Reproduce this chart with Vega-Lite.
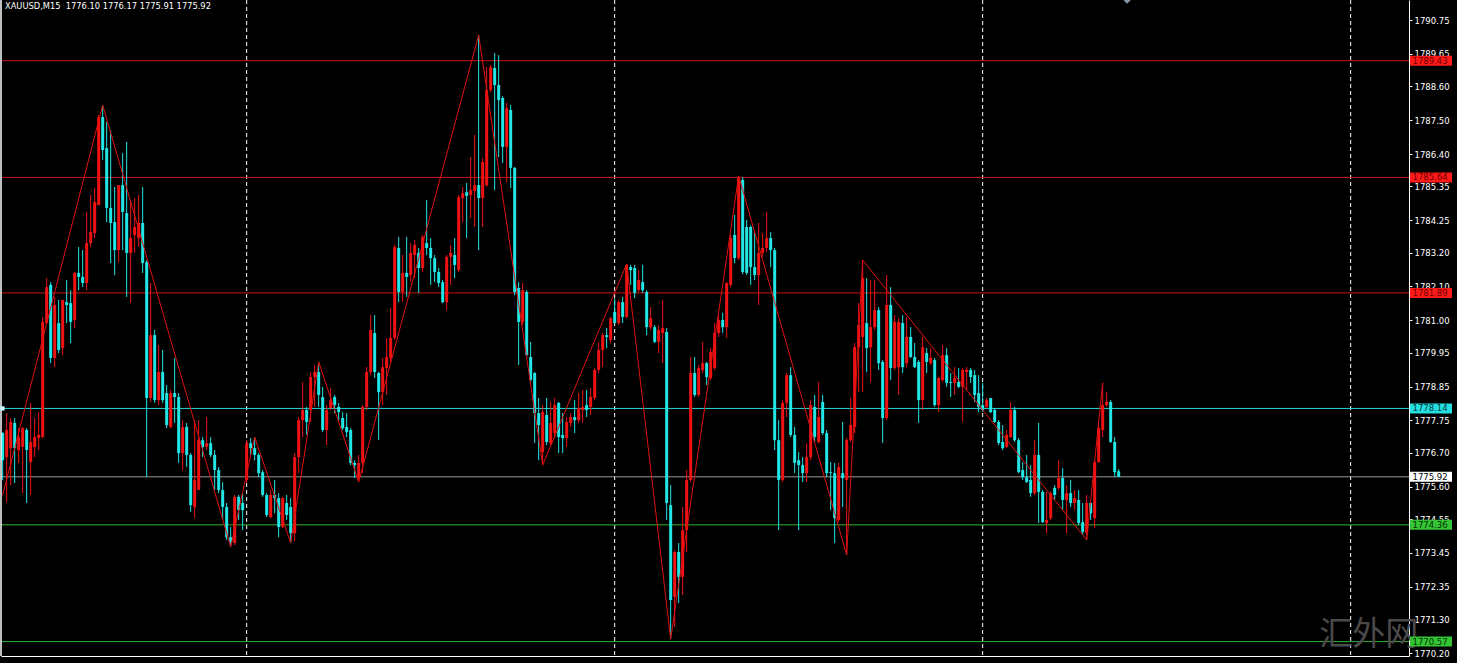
{
"$schema":"https://vega.github.io/schema/vega-lite/v6.json",
"width":1408,"height":656,"autosize":"none",
"padding":{"left":1,"top":0,"right":48,"bottom":7},
"background":"#000000",
"config":{"view":{"stroke":null},"axis":{"labelOverlap":false,"labelSeparation":0},"scale":{"continuousPadding":0}},
"datasets":{
"candles":[
{"k":0,"o":1777.34,"h":1777.37,"l":1775.82,"c":1776.46},
{"k":1,"o":1776.56,"h":1777.99,"l":1775.10,"c":1777.44},
{"k":2,"o":1776.85,"h":1777.83,"l":1775.65,"c":1777.70},
{"k":3,"o":1777.67,"h":1777.83,"l":1775.72,"c":1776.85},
{"k":4,"o":1776.79,"h":1777.50,"l":1776.37,"c":1777.21},
{"k":5,"o":1776.89,"h":1777.54,"l":1775.39,"c":1777.50},
{"k":6,"o":1777.44,"h":1777.50,"l":1775.07,"c":1776.79},
{"k":7,"o":1776.40,"h":1778.32,"l":1775.33,"c":1777.05},
{"k":8,"o":1776.89,"h":1777.83,"l":1776.56,"c":1777.21},
{"k":9,"o":1777.18,"h":1778.02,"l":1776.79,"c":1777.28},
{"k":10,"o":1777.21,"h":1781.11,"l":1777.18,"c":1780.95},
{"k":11,"o":1780.91,"h":1782.37,"l":1780.91,"c":1782.08},
{"k":12,"o":1782.15,"h":1782.24,"l":1779.61,"c":1779.78},
{"k":13,"o":1779.78,"h":1781.76,"l":1779.48,"c":1781.50},
{"k":14,"o":1780.91,"h":1781.66,"l":1779.94,"c":1780.04},
{"k":15,"o":1780.10,"h":1781.66,"l":1779.87,"c":1781.66},
{"k":16,"o":1781.59,"h":1782.31,"l":1780.91,"c":1781.50},
{"k":17,"o":1781.56,"h":1781.98,"l":1780.26,"c":1780.95},
{"k":18,"o":1781.01,"h":1782.57,"l":1780.75,"c":1782.54},
{"k":19,"o":1782.54,"h":1783.38,"l":1781.98,"c":1782.41},
{"k":20,"o":1782.41,"h":1783.28,"l":1782.08,"c":1782.21},
{"k":21,"o":1782.21,"h":1784.52,"l":1781.98,"c":1783.51},
{"k":22,"o":1783.51,"h":1785.07,"l":1783.38,"c":1783.87},
{"k":23,"o":1783.83,"h":1785.30,"l":1783.67,"c":1784.84},
{"k":24,"o":1784.74,"h":1787.67,"l":1784.74,"c":1787.60},
{"k":25,"o":1787.60,"h":1787.99,"l":1786.21,"c":1786.53},
{"k":26,"o":1786.59,"h":1787.44,"l":1784.19,"c":1784.65},
{"k":27,"o":1784.65,"h":1787.18,"l":1782.86,"c":1784.16},
{"k":28,"o":1784.19,"h":1785.33,"l":1782.47,"c":1783.28},
{"k":29,"o":1783.28,"h":1785.39,"l":1782.89,"c":1785.39},
{"k":30,"o":1785.39,"h":1786.43,"l":1783.28,"c":1784.52},
{"k":31,"o":1784.48,"h":1786.79,"l":1781.76,"c":1783.19},
{"k":32,"o":1783.19,"h":1784.91,"l":1781.56,"c":1783.67},
{"k":33,"o":1783.77,"h":1784.97,"l":1783.19,"c":1784.03},
{"k":34,"o":1783.67,"h":1785.07,"l":1783.38,"c":1784.16},
{"k":35,"o":1784.16,"h":1785.33,"l":1782.54,"c":1782.86},
{"k":36,"o":1782.89,"h":1782.96,"l":1775.91,"c":1778.48},
{"k":37,"o":1778.48,"h":1782.21,"l":1778.35,"c":1780.52},
{"k":38,"o":1780.52,"h":1780.69,"l":1778.32,"c":1778.41},
{"k":39,"o":1778.41,"h":1780.20,"l":1778.25,"c":1779.32},
{"k":40,"o":1779.32,"h":1780.04,"l":1778.32,"c":1778.41},
{"k":41,"o":1778.64,"h":1778.90,"l":1777.50,"c":1777.60},
{"k":42,"o":1777.54,"h":1778.74,"l":1777.50,"c":1778.64},
{"k":43,"o":1778.64,"h":1779.78,"l":1777.67,"c":1778.51},
{"k":44,"o":1778.51,"h":1778.64,"l":1776.37,"c":1776.69},
{"k":45,"o":1776.69,"h":1777.76,"l":1776.14,"c":1777.54},
{"k":46,"o":1777.54,"h":1777.67,"l":1776.24,"c":1776.63},
{"k":47,"o":1776.63,"h":1776.69,"l":1774.78,"c":1775.00},
{"k":48,"o":1774.94,"h":1777.76,"l":1774.58,"c":1775.82},
{"k":49,"o":1775.49,"h":1777.76,"l":1775.49,"c":1777.11},
{"k":50,"o":1777.11,"h":1777.21,"l":1776.56,"c":1776.89},
{"k":51,"o":1776.89,"h":1777.86,"l":1776.79,"c":1777.01},
{"k":52,"o":1777.01,"h":1777.21,"l":1776.56,"c":1776.63},
{"k":53,"o":1776.63,"h":1776.79,"l":1775.49,"c":1776.14},
{"k":54,"o":1776.14,"h":1776.24,"l":1775.39,"c":1775.49},
{"k":55,"o":1775.49,"h":1775.75,"l":1774.52,"c":1774.94},
{"k":56,"o":1774.94,"h":1775.07,"l":1773.87,"c":1773.96},
{"k":57,"o":1773.96,"h":1774.29,"l":1773.64,"c":1773.80},
{"k":58,"o":1773.77,"h":1775.33,"l":1773.70,"c":1775.27},
{"k":59,"o":1775.27,"h":1775.33,"l":1774.52,"c":1774.84},
{"k":60,"o":1775.07,"h":1775.39,"l":1774.19,"c":1774.84},
{"k":61,"o":1775.82,"h":1777.11,"l":1775.72,"c":1777.01},
{"k":62,"o":1777.01,"h":1777.18,"l":1776.63,"c":1776.85},
{"k":63,"o":1776.85,"h":1777.21,"l":1776.46,"c":1776.63},
{"k":64,"o":1776.63,"h":1776.69,"l":1775.91,"c":1776.04},
{"k":65,"o":1776.07,"h":1776.14,"l":1775.27,"c":1775.33},
{"k":66,"o":1775.33,"h":1775.39,"l":1774.61,"c":1774.68},
{"k":67,"o":1774.61,"h":1775.49,"l":1774.58,"c":1775.33},
{"k":68,"o":1775.33,"h":1775.82,"l":1774.74,"c":1775.23},
{"k":69,"o":1775.23,"h":1775.39,"l":1773.96,"c":1774.29},
{"k":70,"o":1774.29,"h":1775.27,"l":1774.26,"c":1775.23},
{"k":71,"o":1775.07,"h":1775.33,"l":1774.52,"c":1774.68},
{"k":72,"o":1774.94,"h":1775.23,"l":1773.77,"c":1774.09},
{"k":73,"o":1774.09,"h":1776.69,"l":1773.83,"c":1776.56},
{"k":74,"o":1776.56,"h":1777.86,"l":1776.04,"c":1777.76},
{"k":75,"o":1777.76,"h":1778.99,"l":1777.21,"c":1778.09},
{"k":76,"o":1778.09,"h":1778.19,"l":1777.28,"c":1777.70},
{"k":77,"o":1778.09,"h":1779.32,"l":1777.70,"c":1779.16},
{"k":78,"o":1779.16,"h":1779.55,"l":1778.19,"c":1779.32},
{"k":79,"o":1779.32,"h":1779.65,"l":1778.19,"c":1778.58},
{"k":80,"o":1778.51,"h":1778.84,"l":1777.37,"c":1777.44},
{"k":81,"o":1777.44,"h":1778.25,"l":1776.95,"c":1778.09},
{"k":82,"o":1778.15,"h":1778.80,"l":1778.09,"c":1778.41},
{"k":83,"o":1778.51,"h":1778.58,"l":1777.99,"c":1778.25},
{"k":84,"o":1778.19,"h":1778.32,"l":1777.76,"c":1778.02},
{"k":85,"o":1777.83,"h":1778.02,"l":1777.44,"c":1777.50},
{"k":86,"o":1777.54,"h":1777.99,"l":1777.21,"c":1777.37},
{"k":87,"o":1777.44,"h":1777.50,"l":1776.30,"c":1776.37},
{"k":88,"o":1776.37,"h":1776.46,"l":1775.88,"c":1776.30},
{"k":89,"o":1775.88,"h":1776.63,"l":1775.75,"c":1776.37},
{"k":90,"o":1776.37,"h":1778.25,"l":1776.04,"c":1778.19},
{"k":91,"o":1778.19,"h":1779.48,"l":1778.09,"c":1779.32},
{"k":92,"o":1779.32,"h":1781.17,"l":1779.22,"c":1780.69},
{"k":93,"o":1780.59,"h":1781.17,"l":1779.13,"c":1779.32},
{"k":94,"o":1779.29,"h":1779.32,"l":1777.11,"c":1778.67},
{"k":95,"o":1778.67,"h":1779.78,"l":1778.25,"c":1779.48},
{"k":96,"o":1779.45,"h":1780.43,"l":1778.58,"c":1779.81},
{"k":97,"o":1779.78,"h":1781.40,"l":1779.65,"c":1780.43},
{"k":98,"o":1780.43,"h":1783.45,"l":1780.36,"c":1783.38},
{"k":99,"o":1783.35,"h":1783.71,"l":1781.59,"c":1781.92},
{"k":100,"o":1781.92,"h":1783.12,"l":1781.59,"c":1782.54},
{"k":101,"o":1782.54,"h":1783.71,"l":1781.76,"c":1782.41},
{"k":102,"o":1782.47,"h":1783.51,"l":1782.24,"c":1783.19},
{"k":103,"o":1783.12,"h":1783.61,"l":1782.37,"c":1783.45},
{"k":104,"o":1783.19,"h":1783.35,"l":1781.89,"c":1782.70},
{"k":105,"o":1782.70,"h":1783.77,"l":1782.57,"c":1783.71},
{"k":106,"o":1783.51,"h":1784.91,"l":1783.12,"c":1783.35},
{"k":107,"o":1783.35,"h":1783.67,"l":1782.15,"c":1783.02},
{"k":108,"o":1783.02,"h":1783.12,"l":1782.24,"c":1782.57},
{"k":109,"o":1782.57,"h":1782.70,"l":1782.08,"c":1782.21},
{"k":110,"o":1782.24,"h":1782.31,"l":1781.56,"c":1781.59},
{"k":111,"o":1781.59,"h":1783.12,"l":1781.33,"c":1783.06},
{"k":112,"o":1783.06,"h":1783.45,"l":1782.15,"c":1783.19},
{"k":113,"o":1783.12,"h":1783.67,"l":1782.37,"c":1782.80},
{"k":114,"o":1782.63,"h":1785.07,"l":1782.57,"c":1785.00},
{"k":115,"o":1784.97,"h":1785.33,"l":1784.19,"c":1785.13},
{"k":116,"o":1785.16,"h":1785.46,"l":1783.67,"c":1785.04},
{"k":117,"o":1785.07,"h":1786.30,"l":1784.32,"c":1785.23},
{"k":118,"o":1785.20,"h":1787.02,"l":1784.03,"c":1785.39},
{"k":119,"o":1785.39,"h":1790.26,"l":1783.28,"c":1784.97},
{"k":120,"o":1784.97,"h":1786.27,"l":1784.03,"c":1786.14},
{"k":121,"o":1785.39,"h":1789.22,"l":1785.33,"c":1788.48},
{"k":122,"o":1788.48,"h":1789.29,"l":1788.41,"c":1789.22},
{"k":123,"o":1789.19,"h":1789.68,"l":1785.23,"c":1788.64},
{"k":124,"o":1788.64,"h":1789.61,"l":1786.30,"c":1788.15},
{"k":125,"o":1788.22,"h":1788.28,"l":1786.11,"c":1786.63},
{"k":126,"o":1786.63,"h":1788.06,"l":1785.49,"c":1787.89},
{"k":127,"o":1787.83,"h":1787.99,"l":1785.30,"c":1785.95},
{"k":128,"o":1785.95,"h":1785.98,"l":1781.82,"c":1781.92},
{"k":129,"o":1782.05,"h":1782.24,"l":1779.55,"c":1780.95},
{"k":130,"o":1780.95,"h":1782.21,"l":1780.85,"c":1781.98},
{"k":131,"o":1781.92,"h":1781.98,"l":1779.78,"c":1779.87},
{"k":132,"o":1779.81,"h":1780.30,"l":1778.99,"c":1779.06},
{"k":133,"o":1779.29,"h":1779.32,"l":1777.02,"c":1777.99},
{"k":134,"o":1777.99,"h":1778.48,"l":1776.46,"c":1777.60},
{"k":135,"o":1776.72,"h":1778.25,"l":1776.30,"c":1778.02},
{"k":136,"o":1777.93,"h":1778.48,"l":1776.95,"c":1777.05},
{"k":137,"o":1777.01,"h":1778.35,"l":1776.95,"c":1777.67},
{"k":138,"o":1777.34,"h":1778.48,"l":1777.18,"c":1778.25},
{"k":139,"o":1778.32,"h":1778.35,"l":1776.69,"c":1777.21},
{"k":140,"o":1777.28,"h":1777.99,"l":1776.69,"c":1777.18},
{"k":141,"o":1777.18,"h":1777.86,"l":1776.89,"c":1777.70},
{"k":142,"o":1777.67,"h":1777.99,"l":1777.54,"c":1777.86},
{"k":143,"o":1777.86,"h":1778.41,"l":1777.34,"c":1777.76},
{"k":144,"o":1777.76,"h":1778.64,"l":1777.67,"c":1778.15},
{"k":145,"o":1778.09,"h":1778.74,"l":1777.67,"c":1778.19},
{"k":146,"o":1778.25,"h":1778.74,"l":1777.86,"c":1778.09},
{"k":147,"o":1778.19,"h":1778.80,"l":1777.93,"c":1778.51},
{"k":148,"o":1778.48,"h":1779.45,"l":1778.41,"c":1779.39},
{"k":149,"o":1779.39,"h":1780.30,"l":1779.29,"c":1780.04},
{"k":150,"o":1780.04,"h":1780.59,"l":1779.48,"c":1780.52},
{"k":151,"o":1780.52,"h":1780.75,"l":1780.10,"c":1780.46},
{"k":152,"o":1780.36,"h":1781.11,"l":1780.26,"c":1781.07},
{"k":153,"o":1781.27,"h":1781.72,"l":1780.91,"c":1780.91},
{"k":154,"o":1780.91,"h":1781.66,"l":1780.85,"c":1781.59},
{"k":155,"o":1781.59,"h":1781.76,"l":1780.91,"c":1781.11},
{"k":156,"o":1781.11,"h":1782.83,"l":1781.07,"c":1782.80},
{"k":157,"o":1782.73,"h":1782.80,"l":1782.15,"c":1782.63},
{"k":158,"o":1782.70,"h":1782.80,"l":1781.72,"c":1781.89},
{"k":159,"o":1781.98,"h":1782.63,"l":1781.92,"c":1782.31},
{"k":160,"o":1782.24,"h":1782.80,"l":1781.89,"c":1781.98},
{"k":161,"o":1781.92,"h":1781.98,"l":1780.52,"c":1780.78},
{"k":162,"o":1780.78,"h":1781.43,"l":1780.69,"c":1781.07},
{"k":163,"o":1780.78,"h":1780.85,"l":1780.26,"c":1780.30},
{"k":164,"o":1780.30,"h":1780.85,"l":1779.94,"c":1780.69},
{"k":165,"o":1780.59,"h":1781.66,"l":1779.61,"c":1780.75},
{"k":166,"o":1780.62,"h":1780.75,"l":1774.52,"c":1775.07},
{"k":167,"o":1775.00,"h":1775.65,"l":1770.65,"c":1771.92},
{"k":168,"o":1772.02,"h":1773.54,"l":1771.04,"c":1773.48},
{"k":169,"o":1773.48,"h":1773.77,"l":1771.82,"c":1772.67},
{"k":170,"o":1772.67,"h":1774.94,"l":1772.08,"c":1774.19},
{"k":171,"o":1774.19,"h":1776.14,"l":1773.48,"c":1775.82},
{"k":172,"o":1775.82,"h":1779.81,"l":1775.75,"c":1779.29},
{"k":173,"o":1779.29,"h":1779.81,"l":1778.51,"c":1778.58},
{"k":174,"o":1778.58,"h":1779.55,"l":1778.51,"c":1779.45},
{"k":175,"o":1779.39,"h":1780.30,"l":1779.29,"c":1779.61},
{"k":176,"o":1779.61,"h":1779.65,"l":1778.90,"c":1779.16},
{"k":177,"o":1779.13,"h":1780.10,"l":1779.06,"c":1779.97},
{"k":178,"o":1779.45,"h":1780.91,"l":1779.39,"c":1780.59},
{"k":179,"o":1780.59,"h":1781.17,"l":1780.46,"c":1781.01},
{"k":180,"o":1781.01,"h":1781.24,"l":1780.59,"c":1780.78},
{"k":181,"o":1780.78,"h":1782.24,"l":1780.43,"c":1782.21},
{"k":182,"o":1782.15,"h":1783.77,"l":1782.08,"c":1783.67},
{"k":183,"o":1783.77,"h":1784.42,"l":1782.86,"c":1783.02},
{"k":184,"o":1783.02,"h":1785.69,"l":1782.96,"c":1785.62},
{"k":185,"o":1785.56,"h":1785.65,"l":1782.50,"c":1782.57},
{"k":186,"o":1784.03,"h":1784.26,"l":1782.47,"c":1782.54},
{"k":187,"o":1784.03,"h":1784.09,"l":1782.15,"c":1782.73},
{"k":188,"o":1782.73,"h":1783.84,"l":1782.31,"c":1782.47},
{"k":189,"o":1782.47,"h":1784.16,"l":1781.50,"c":1783.19},
{"k":190,"o":1783.19,"h":1783.84,"l":1783.06,"c":1783.35},
{"k":191,"o":1783.35,"h":1784.52,"l":1783.22,"c":1783.67},
{"k":192,"o":1783.67,"h":1783.87,"l":1782.73,"c":1783.28},
{"k":193,"o":1783.28,"h":1783.35,"l":1776.79,"c":1777.11},
{"k":194,"o":1777.11,"h":1777.76,"l":1774.19,"c":1775.82},
{"k":195,"o":1775.82,"h":1778.41,"l":1775.75,"c":1778.32},
{"k":196,"o":1778.32,"h":1779.29,"l":1777.86,"c":1779.22},
{"k":197,"o":1779.22,"h":1779.48,"l":1777.21,"c":1777.28},
{"k":198,"o":1777.28,"h":1777.54,"l":1776.04,"c":1776.37},
{"k":199,"o":1776.46,"h":1776.72,"l":1774.19,"c":1776.30},
{"k":200,"o":1776.30,"h":1776.56,"l":1775.75,"c":1776.04},
{"k":201,"o":1776.04,"h":1777.01,"l":1775.75,"c":1776.56},
{"k":202,"o":1776.56,"h":1778.41,"l":1776.46,"c":1778.25},
{"k":203,"o":1778.19,"h":1778.58,"l":1777.05,"c":1777.21},
{"k":204,"o":1777.05,"h":1779.00,"l":1777.01,"c":1777.86},
{"k":205,"o":1778.35,"h":1778.58,"l":1777.28,"c":1777.34},
{"k":206,"o":1777.34,"h":1777.44,"l":1775.91,"c":1776.04},
{"k":207,"o":1776.07,"h":1776.40,"l":1774.84,"c":1776.04},
{"k":208,"o":1776.04,"h":1776.37,"l":1773.77,"c":1774.58},
{"k":209,"o":1774.52,"h":1776.37,"l":1774.45,"c":1776.24},
{"k":210,"o":1776.04,"h":1777.70,"l":1774.94,"c":1775.88},
{"k":211,"o":1775.82,"h":1777.18,"l":1773.38,"c":1777.11},
{"k":212,"o":1777.11,"h":1778.48,"l":1777.05,"c":1777.60},
{"k":213,"o":1777.54,"h":1780.26,"l":1777.34,"c":1780.13},
{"k":214,"o":1780.13,"h":1781.56,"l":1778.67,"c":1780.85},
{"k":215,"o":1780.46,"h":1782.96,"l":1778.67,"c":1782.37},
{"k":216,"o":1780.91,"h":1782.37,"l":1779.32,"c":1780.10},
{"k":217,"o":1780.13,"h":1782.31,"l":1778.99,"c":1780.78},
{"k":218,"o":1780.78,"h":1782.31,"l":1780.69,"c":1781.33},
{"k":219,"o":1781.33,"h":1781.43,"l":1779.39,"c":1779.61},
{"k":220,"o":1779.65,"h":1779.71,"l":1777.02,"c":1777.83},
{"k":221,"o":1777.83,"h":1782.47,"l":1777.76,"c":1781.50},
{"k":222,"o":1781.50,"h":1782.08,"l":1779.06,"c":1779.45},
{"k":223,"o":1779.45,"h":1781.17,"l":1779.39,"c":1780.95},
{"k":224,"o":1779.48,"h":1781.07,"l":1778.58,"c":1780.95},
{"k":225,"o":1780.91,"h":1781.17,"l":1779.29,"c":1779.48},
{"k":226,"o":1779.61,"h":1781.11,"l":1779.48,"c":1780.46},
{"k":227,"o":1780.46,"h":1780.78,"l":1779.78,"c":1779.81},
{"k":228,"o":1779.81,"h":1780.26,"l":1779.45,"c":1779.48},
{"k":229,"o":1779.65,"h":1779.71,"l":1777.67,"c":1778.41},
{"k":230,"o":1778.41,"h":1780.46,"l":1778.09,"c":1780.13},
{"k":231,"o":1779.94,"h":1780.10,"l":1779.29,"c":1779.65},
{"k":232,"o":1779.61,"h":1780.10,"l":1779.55,"c":1779.78},
{"k":233,"o":1779.71,"h":1779.78,"l":1778.19,"c":1778.25},
{"k":234,"o":1778.25,"h":1779.16,"l":1778.02,"c":1779.13},
{"k":235,"o":1779.06,"h":1780.20,"l":1779.00,"c":1779.87},
{"k":236,"o":1779.87,"h":1780.10,"l":1778.84,"c":1778.97},
{"k":237,"o":1779.00,"h":1779.29,"l":1778.51,"c":1778.97},
{"k":238,"o":1778.97,"h":1779.48,"l":1778.58,"c":1779.13},
{"k":239,"o":1779.00,"h":1779.45,"l":1778.80,"c":1778.84},
{"k":240,"o":1778.84,"h":1779.45,"l":1777.70,"c":1779.39},
{"k":241,"o":1779.32,"h":1779.48,"l":1778.74,"c":1779.39},
{"k":242,"o":1779.39,"h":1779.45,"l":1778.97,"c":1779.16},
{"k":243,"o":1779.22,"h":1779.39,"l":1778.35,"c":1778.58},
{"k":244,"o":1778.64,"h":1779.22,"l":1778.02,"c":1778.19},
{"k":245,"o":1778.25,"h":1778.97,"l":1778.02,"c":1778.09},
{"k":246,"o":1778.19,"h":1778.48,"l":1778.15,"c":1778.41},
{"k":247,"o":1778.48,"h":1778.48,"l":1777.99,"c":1778.02},
{"k":248,"o":1778.09,"h":1778.15,"l":1777.67,"c":1777.70},
{"k":249,"o":1777.70,"h":1777.76,"l":1776.95,"c":1777.02},
{"k":250,"o":1777.05,"h":1777.60,"l":1776.79,"c":1776.85},
{"k":251,"o":1776.89,"h":1777.44,"l":1776.85,"c":1777.28},
{"k":252,"o":1777.21,"h":1778.35,"l":1777.18,"c":1778.09},
{"k":253,"o":1778.09,"h":1778.19,"l":1777.05,"c":1777.11},
{"k":254,"o":1777.11,"h":1777.18,"l":1776.04,"c":1776.07},
{"k":255,"o":1776.14,"h":1776.40,"l":1775.82,"c":1775.91},
{"k":256,"o":1775.91,"h":1776.63,"l":1775.72,"c":1775.75},
{"k":257,"o":1775.82,"h":1776.30,"l":1775.27,"c":1775.39},
{"k":258,"o":1775.39,"h":1777.11,"l":1775.33,"c":1776.63},
{"k":259,"o":1776.63,"h":1777.67,"l":1774.42,"c":1775.43},
{"k":260,"o":1775.43,"h":1775.49,"l":1774.42,"c":1774.45},
{"k":261,"o":1774.42,"h":1775.43,"l":1774.09,"c":1774.52},
{"k":262,"o":1774.58,"h":1775.43,"l":1774.52,"c":1775.39},
{"k":263,"o":1775.56,"h":1775.65,"l":1775.17,"c":1775.33},
{"k":264,"o":1775.56,"h":1776.46,"l":1775.49,"c":1775.88},
{"k":265,"o":1775.88,"h":1776.20,"l":1774.84,"c":1775.17},
{"k":266,"o":1775.17,"h":1775.65,"l":1774.09,"c":1775.39},
{"k":267,"o":1775.39,"h":1775.82,"l":1774.94,"c":1775.07},
{"k":268,"o":1775.07,"h":1775.49,"l":1774.84,"c":1775.23},
{"k":269,"o":1775.17,"h":1775.49,"l":1774.35,"c":1774.42},
{"k":270,"o":1774.45,"h":1775.07,"l":1774.03,"c":1774.13},
{"k":271,"o":1774.09,"h":1775.33,"l":1773.87,"c":1775.07},
{"k":272,"o":1775.07,"h":1775.10,"l":1774.52,"c":1774.74},
{"k":273,"o":1774.58,"h":1776.46,"l":1774.26,"c":1776.40},
{"k":274,"o":1776.40,"h":1777.60,"l":1776.37,"c":1777.50},
{"k":275,"o":1777.44,"h":1778.97,"l":1777.21,"c":1778.25},
{"k":276,"o":1778.25,"h":1778.67,"l":1778.19,"c":1778.35},
{"k":277,"o":1778.35,"h":1778.41,"l":1777.02,"c":1777.05},
{"k":278,"o":1777.05,"h":1777.21,"l":1775.91,"c":1776.07},
{"k":279,"o":1776.10,"h":1776.17,"l":1775.91,"c":1775.92}
],
"zz":[
{"k":0,"p":1775.33},{"k":25,"p":1787.99},{"k":57,"p":1773.64},{"k":63,"p":1777.21},
{"k":72,"p":1773.77},{"k":79,"p":1779.65},{"k":89,"p":1775.75},{"k":119,"p":1790.26},
{"k":135,"p":1776.30},{"k":156,"p":1782.83},{"k":167,"p":1770.65},{"k":184,"p":1785.69},
{"k":211,"p":1773.38},{"k":215,"p":1782.96},{"k":271,"p":1773.87},{"k":275,"p":1778.97}
],
"levels":[
{"p":1789.43,"kind":"res"},{"p":1785.64,"kind":"res"},{"p":1781.89,"kind":"res"},
{"p":1778.14,"kind":"line"},{"p":1775.92,"kind":"bid"},{"p":1774.36,"kind":"sup"},{"p":1770.57,"kind":"sup"}
],
"seps":[{"k":61},{"k":153},{"k":245},{"k":337}]
},
"layer":[
{"data":{"name":"seps"},
 "mark":{"type":"rule","color":"#ffffff","strokeWidth":1,"strokeDash":[4,3]},
 "encoding":{"x":{"field":"k","type":"quantitative","scale":{"domain":[-0.4175,351.5825],"nice":false,"zero":false,"padding":0},
   "axis":{"labels":false,"ticks":false,"grid":false,"title":null,"domainColor":"#ffffff","orient":"bottom"}}}},
{"data":{"name":"levels"},
 "mark":{"type":"rule","strokeWidth":1},
 "encoding":{"y":{"field":"p","type":"quantitative","scale":{"domain":[1770.103,1791.4],"nice":false,"zero":false,"padding":0},
   "axis":{"orient":"right","tickCount":40,"values":[1790.75,1789.65,1788.6,1787.5,1786.4,1785.35,1784.25,1783.2,1782.1,1781,1779.95,1778.85,1777.75,1776.7,1775.6,1774.55,1773.45,1772.35,1771.3,1770.2],
     "format":".2f","labelColor":"#ffffff","labelFont":"DejaVu Sans","labelFontSize":8.5,"tickColor":"#ffffff","tickSize":3,
     "domainColor":"#ffffff","grid":false,"title":null,"labelPadding":2,"labelOverlap":false,"labelSeparation":0,"labelFlush":false,"labelBound":false}},
   "color":{"field":"kind","type":"nominal","legend":null,
     "scale":{"domain":["res","line","bid","sup"],"range":["#c81414","#1fd6d6","#9a9a9a","#2fb42f"]}}}},
{"data":{"name":"candles"},
 "mark":{"type":"rule","strokeWidth":1},
 "encoding":{"x":{"field":"k","type":"quantitative","scale":{"domain":[-0.4175,351.5825],"nice":false,"zero":false,"padding":0}},
   "y":{"field":"l","type":"quantitative","scale":{"domain":[1770.103,1791.4],"nice":false,"zero":false,"padding":0}},
   "y2":{"field":"h"},
   "color":{"condition":{"test":"datum.c >= datum.o","value":"#f01212"},"value":"#22e6e6"}}},
{"data":{"name":"candles"},
 "mark":{"type":"bar","size":3},
 "encoding":{"x":{"field":"k","type":"quantitative","scale":{"domain":[-0.4175,351.5825],"nice":false,"zero":false,"padding":0}},
   "y":{"field":"o","type":"quantitative","scale":{"domain":[1770.103,1791.4],"nice":false,"zero":false,"padding":0}},
   "y2":{"field":"c"},
   "color":{"condition":{"test":"datum.c >= datum.o","value":"#f01212"},"value":"#22e6e6"}}},
{"data":{"name":"zz"},
 "mark":{"type":"line","color":"#e01010","strokeWidth":1},
 "encoding":{"x":{"field":"k","type":"quantitative","scale":{"domain":[-0.4175,351.5825],"nice":false,"zero":false,"padding":0}},
   "y":{"field":"p","type":"quantitative","scale":{"domain":[1770.103,1791.4],"nice":false,"zero":false,"padding":0}}}},
{"data":{"values":[{"edge":-0.4175}]},
 "mark":{"type":"rule","color":"#ffffff","strokeWidth":1.5},
 "encoding":{"x":{"field":"edge","type":"quantitative","scale":{"domain":[-0.4175,351.5825],"nice":false,"zero":false,"padding":0}}}},
{"data":{"values":[{"k":-0.05,"p":1778.14}]},
 "mark":{"type":"point","shape":"square","filled":true,"size":18,"color":"#c8ffff","opacity":1},
 "encoding":{"x":{"field":"k","type":"quantitative","scale":{"domain":[-0.4175,351.5825],"nice":false,"zero":false,"padding":0}},
   "y":{"field":"p","type":"quantitative","scale":{"domain":[1770.103,1791.4],"nice":false,"zero":false,"padding":0}}}},
{"data":{"values":[{"k":281.1,"p":1791.45}]},
 "mark":{"type":"point","shape":"diamond","filled":true,"size":110,"color":"#8797ab","opacity":1},
 "encoding":{"x":{"field":"k","type":"quantitative","scale":{"domain":[-0.4175,351.5825],"nice":false,"zero":false,"padding":0}},
   "y":{"field":"p","type":"quantitative","scale":{"domain":[1770.103,1791.4],"nice":false,"zero":false,"padding":0}}}},
{"data":{"values":[{"t":"汇外网","k":341.5,"p":1770.80}]},
 "mark":{"type":"text","font":"Noto Sans CJK SC","fontSize":33,"color":"#4a4a4a","align":"center","baseline":"middle"},
 "encoding":{"x":{"field":"k","type":"quantitative","scale":{"domain":[-0.4175,351.5825],"nice":false,"zero":false,"padding":0}},
   "y":{"field":"p","type":"quantitative","scale":{"domain":[1770.103,1791.4],"nice":false,"zero":false,"padding":0}},
   "text":{"field":"t"}}},
{"data":{"name":"levels"},
 "mark":{"type":"bar","size":10,"clip":false},
 "encoding":{"x":{"datum":351.83,"type":"quantitative","scale":{"domain":[-0.4175,351.5825],"nice":false,"zero":false,"padding":0}},
   "x2":{"datum":362.33},
   "y":{"field":"p","type":"quantitative","scale":{"domain":[1770.103,1791.4],"nice":false,"zero":false,"padding":0}},
   "color":{"field":"kind","type":"nominal","legend":null,
     "scale":{"domain":["res","line","bid","sup"],"range":["#ff1a1a","#25e0e0","#ffffff","#35c435"]}}}},
{"data":{"name":"levels"},
 "mark":{"type":"text","font":"DejaVu Sans","fontSize":8.5,"align":"left","baseline":"middle","clip":false},
 "encoding":{"x":{"datum":352.45,"type":"quantitative","scale":{"domain":[-0.4175,351.5825],"nice":false,"zero":false,"padding":0}},
   "y":{"field":"p","type":"quantitative","scale":{"domain":[1770.103,1791.4],"nice":false,"zero":false,"padding":0}},
   "text":{"field":"p","type":"quantitative","format":".2f"},
   "color":{"field":"kind","type":"nominal","legend":null,
     "scale":{"domain":["res","line","bid","sup"],"range":["#700000","#003c3c","#000000","#003300"]}}}},
{"data":{"values":[{"t":"XAUUSD,M15\u00a0 1776.10 1776.17 1775.91 1775.92","k":0.58,"p":1791.17}]},
 "mark":{"type":"text","font":"DejaVu Sans","fontSize":8.3,"color":"#ffffff","align":"left","baseline":"middle"},
 "encoding":{"x":{"field":"k","type":"quantitative","scale":{"domain":[-0.4175,351.5825],"nice":false,"zero":false,"padding":0}},
   "y":{"field":"p","type":"quantitative","scale":{"domain":[1770.103,1791.4],"nice":false,"zero":false,"padding":0}},
   "text":{"field":"t"}}}
],
"resolve":{"scale":{"color":"independent"}}
}
